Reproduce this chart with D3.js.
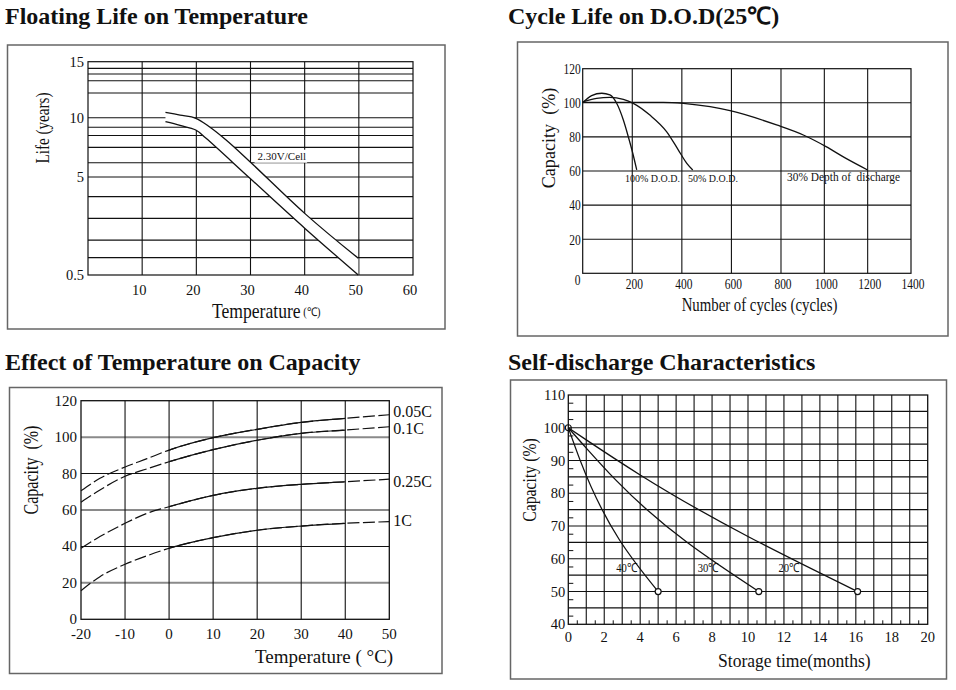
<!DOCTYPE html>
<html>
<head>
<meta charset="utf-8">
<script src="https://cdn.jsdelivr.net/npm/d3@7"></script>
<style>
body { margin: 0; background: #fff; }
text { white-space: pre; }
</style>
</head>
<body>
<svg id="chart"></svg>
<script>
var W = 956, H = 690;
var serif = "'Liberation Serif','Times New Roman',serif";

// ---- Floating life on temperature ----
var floatTempTicks = [10, 20, 30, 40, 50, 60];
var floatLifeTicks = [15, 10, 5, 0.5];
var floatLifeGrid = [14.4, 13.9, 13.3, 12.2, 10, 9.2, 8.5, 7.5, 6.2, 5, 4.1, 3.1, 2.1, 1.3];
var floatUpper = [[14.3, 10.48], [17, 10.23], [19.9, 9.95], [22.4, 9.24], [25.5, 8.12], [29.9, 6.29], [40, 3.33], [49.9, 1.27]];
var floatLower = [[14.3, 9.66], [17, 9.35], [19.9, 8.96], [21.8, 8.26], [29.9, 4.94], [40, 2.65], [49.9, 0.5]];
var floatNote = ["2.30V/Cell", 31.3, 6.75];

// ---- Cycle life on D.O.D ----
var cycleTicks = [200, 400, 600, 800, 1000, 1200, 1400];
var cycleCapTicks = [20, 40, 60, 80, 100, 120];
var dod100 = [[0, 100], [36, 104.2], [77, 105.6], [110, 104.6], [137, 99.7], [164, 89.9], [184, 80.1], [202, 70.4], [218, 60.6]];
var dod50 = [[0, 100.5], [56, 102.6], [110, 103.2], [164, 102], [204, 99.7], [271, 92.8], [339, 83], [386, 72.3], [420, 64.5], [444, 60.6]];
var dod30 = [[0, 100.3], [325, 100.3], [406, 99.7], [514, 97.7], [599, 95.2], [782, 87], [903, 81.1], [1008, 74.3], [1100, 67.4], [1200, 60.6]];
var dodLabels = [["100% D.O.D.", 171, 55.7, 10.5], ["50% D.O.D.", 425, 55.7, 10.5], ["30% Depth of  discharge", 828, 56, 12]];

// ---- Effect of temperature on capacity ----
var tempTicks = [-20, -10, 0, 10, 20, 30, 40, 50];
var tempCapTicks = [0, 20, 40, 60, 80, 100, 120];
var tempPts = [-20, -15.7, -10, -5, 0, 10, 20, 30, 40, 50];
var cap005 = [70.6, 77.4, 83.6, 88.2, 92.9, 99.7, 104.3, 108.1, 110.3, 112.3];
var cap01 = [64.2, 71, 78.5, 82.6, 86.5, 93.1, 98.3, 102.1, 103.9, 105.7];
var cap025 = [39, 45.4, 52.7, 58.2, 61.8, 68, 71.9, 74.1, 75.5, 76.9];
var cap1 = [15.7, 23.4, 30.2, 34.9, 39, 44.8, 48.9, 51.2, 52.7, 53.6];
var rateNames = ["0.05C", "0.1C", "0.25C", "1C"];
var rateLabelY = [114, 105, 75.5, 54.5];

// ---- Self-discharge ----
var monthTicks = [0, 2, 4, 6, 8, 10, 12, 14, 16, 18, 20];
var selfCapTicks = [40, 50, 60, 70, 80, 90, 100, 110];
var sd40 = [[0, 100], [0.65, 90.2], [5, 50]];
var sd30 = [[0, 100], [1, 93.8], [2.65, 84], [10.6, 50]];
var sd20 = [[0, 100], [1, 96.3], [4, 85.6], [16.1, 50]];
var sdLabels = [["40℃", 3.27, 57.2], ["30℃", 7.8, 57.2], ["20℃", 12.3, 57.2]];

var svg = d3.select("#chart").attr("width", W).attr("height", H);
svg.append("rect").attr("width", W).attr("height", H).attr("fill", "#fff");

function txt(g, x, y, s, o) {
  o = o || {};
  var tr = "translate(" + x + "," + y + ")";
  if (o.rot) tr += " rotate(" + o.rot + ")";
  if (o.sx) tr += " scale(" + o.sx + ",1)";
  return g.append("text")
    .attr("transform", tr)
    .attr("font-family", serif)
    .attr("font-size", o.size || 14)
    .attr("font-weight", o.bold ? "bold" : null)
    .attr("text-anchor", o.anchor || "middle")
    .attr("dominant-baseline", o.base || "central")
    .attr("fill", "#111")
    .text(s);
}

function frame(b) {
  svg.append("rect")
    .attr("x", b[0]).attr("y", b[1]).attr("width", b[2]).attr("height", b[3])
    .attr("fill", "none").attr("stroke", "#666").attr("stroke-width", 1.5);
}

function plotArea(p) {
  return svg.append("g").attr("transform", "translate(" + p.x + "," + p.y + ")");
}

function hlines(g, vals, y, w, stroke, sw) {
  g.append("g").selectAll("line").data(vals).enter().append("line")
    .attr("x1", 0).attr("x2", w)
    .attr("y1", function(d) { return y(d); })
    .attr("y2", function(d) { return y(d); })
    .attr("stroke", stroke).attr("stroke-width", sw);
}

function vlines(g, vals, x, h, stroke, sw) {
  g.append("g").selectAll("line").data(vals).enter().append("line")
    .attr("y1", 0).attr("y2", h)
    .attr("x1", function(d) { return x(d); })
    .attr("x2", function(d) { return x(d); })
    .attr("stroke", stroke).attr("stroke-width", sw);
}

function box(g, p, sw) {
  g.append("rect").attr("width", p.w).attr("height", p.h)
    .attr("fill", "none").attr("stroke", "#111").attr("stroke-width", sw);
}

// ================= Panel 1 =================
var p1 = {x: 88, y: 61.7, w: 325, h: 213.3};
frame([7.5, 45, 437.5, 284]);
txt(svg, 5, 23.5, "Floating Life on Temperature", {size: 24, bold: true, anchor: "start", base: "alphabetic"});
var g1 = plotArea(p1);
var x1 = d3.scaleLinear().domain([0, 60]).range([0, p1.w]);
var y1 = d3.scaleLinear().domain([0.5, 5, 10, 15]).range([p1.h, p1.h * 0.5405, p1.h * 0.2625, 0]);
hlines(g1, floatLifeGrid, y1, p1.w, "#111", 1.1);
vlines(g1, floatTempTicks.slice(0, -1), x1, p1.h, "#111", 1.1);
box(g1, p1, 1.2);

var line1 = d3.line().x(function(d) { return x1(d[0]); }).y(function(d) { return y1(d[1]); }).curve(d3.curveCatmullRom);
var bandPath = line1(floatUpper) + "L" + line1(floatLower.slice().reverse()).slice(1) + "Z";
g1.append("path").attr("d", bandPath).attr("fill", "#fff");
[floatUpper, floatLower].forEach(function(s) {
  g1.append("path").attr("d", line1(s)).attr("fill", "none").attr("stroke", "#111").attr("stroke-width", 1.3);
});
var note = txt(g1, x1(floatNote[1]), y1(floatNote[2]), floatNote[0], {size: 11, anchor: "start"});
var nb = note.node().getBBox();
g1.insert("rect", "text")
  .attr("x", x1(floatNote[1]) - 3).attr("y", y1(floatNote[2]) - 6.5)
  .attr("width", nb.width + 4).attr("height", 13).attr("fill", "#fff");

floatLifeTicks.forEach(function(v) {
  txt(svg, p1.x - 4, p1.y + y1(v), String(v), {size: 14.5, anchor: "end"});
});
floatTempTicks.forEach(function(v) {
  txt(svg, p1.x + x1(v) - 3, 290, String(v), {size: 14.5});
});
var t1 = txt(svg, 212, 311.5, "Temperature", {size: 20, anchor: "start", sx: 0.88});
t1.append("tspan").attr("font-size", 12).text(" (℃)");
txt(svg, 42.5, 128, "Life (years)", {size: 18.5, rot: -90, sx: 0.82});

// ================= Panel 2 =================
var p2 = {x: 582.7, y: 68.7, w: 328.3, h: 204.6};
frame([517.5, 42, 430.5, 294]);
txt(svg, 508, 24, "Cycle Life on D.O.D(25℃)", {size: 24, bold: true, anchor: "start", base: "alphabetic"});
var g2 = plotArea(p2);
var x2 = d3.scaleLinear().domain([0, 800, 1400]).range([0, p2.w * 0.604, p2.w]);
var y2 = d3.scaleLinear().domain([0, 120]).range([p2.h, 0]);
hlines(g2, cycleCapTicks.slice(0, -1), y2, p2.w, "#111", 1.1);
vlines(g2, cycleTicks.slice(0, -1), x2, p2.h, "#111", 1.1);
box(g2, p2, 1.2);
var line2 = d3.line().x(function(d) { return x2(d[0]); }).y(function(d) { return y2(d[1]); }).curve(d3.curveMonotoneX);
[dod100, dod50, dod30].forEach(function(s) {
  g2.append("path").attr("d", line2(s)).attr("fill", "none").attr("stroke", "#111").attr("stroke-width", 1.3);
});
dodLabels.forEach(function(l) {
  txt(g2, x2(l[1]), y2(l[2]), l[0], {size: l[3], anchor: "start", sx: 0.95});
});
cycleCapTicks.forEach(function(v) {
  txt(svg, p2.x - 2, p2.y + y2(v) + 1, String(v), {size: 14, anchor: "end", sx: 0.82});
});
txt(svg, p2.x - 5, p2.y + y2(0) + 7, "0", {size: 14, sx: 0.82});
cycleTicks.forEach(function(v) {
  txt(svg, p2.x + x2(v) + 2, 285, String(v), {size: 14, sx: 0.82});
});
txt(svg, 759.5, 305, "Number of cycles (cycles)", {size: 19, sx: 0.78});
txt(svg, 549, 138, "Capacity  (%)", {size: 18.5, rot: -90, sx: 0.98});

// ================= Panel 3 =================
var p3 = {x: 81, y: 400.7, w: 308.3, h: 218.6};
frame([9.5, 387.5, 432.5, 286]);
txt(svg, 5, 370, "Effect of Temperature on Capacity", {size: 24, bold: true, anchor: "start", base: "alphabetic"});
var g3 = plotArea(p3);
var x3 = d3.scaleLinear().domain([-20, 50]).range([0, p3.w]);
var y3 = d3.scaleLinear().domain([0, 120]).range([p3.h, 0]);
hlines(g3, [20, 60, 100], y3, p3.w, "#8a8a8a", 2);
hlines(g3, [40, 80], y3, p3.w, "#111", 1.1);
vlines(g3, tempTicks.slice(1, -1), x3, p3.h, "#111", 1.1);
box(g3, p3, 1.3);

// solid stroke only between 0 and 40 degrees, dashed outside
svg.append("defs").append("clipPath").attr("id", "solidPart")
  .append("rect").attr("x", x3(0)).attr("y", -5).attr("width", x3(40) - x3(0)).attr("height", p3.h + 10);
var line3 = d3.line().x(function(d) { return x3(d[0]); }).y(function(d) { return y3(d[1]); }).curve(d3.curveMonotoneX);
[cap005, cap01, cap025, cap1].forEach(function(vals, i) {
  var pts = tempPts.map(function(t, j) { return [t, vals[j]]; });
  var gl = g3.append("g");
  gl.append("path").attr("d", line3(pts)).attr("fill", "none").attr("stroke", "#111")
    .attr("stroke-width", 1.2).attr("stroke-dasharray", "12,3.5");
  gl.append("path").attr("d", line3(pts)).attr("fill", "none").attr("stroke", "#111")
    .attr("stroke-width", 1.2).attr("clip-path", "url(#solidPart)");
  txt(svg, p3.x + p3.w + 4, p3.y + y3(rateLabelY[i]), rateNames[i], {size: 16, anchor: "start"});
});
tempCapTicks.forEach(function(v) {
  txt(svg, p3.x - 4, p3.y + y3(v), String(v), {size: 15, anchor: "end"});
});
tempTicks.forEach(function(v) {
  txt(svg, p3.x + x3(v), 634, String(v), {size: 15});
});
txt(svg, 255, 656, "Temperature ( °C)", {size: 19, anchor: "start"});
txt(svg, 31, 470, "Capacity  (%)", {size: 20, rot: -90, sx: 0.8});

// ================= Panel 4 =================
var p4 = {x: 568.3, y: 395, w: 359.4, h: 229.3};
frame([510.5, 380, 436, 299]);
txt(svg, 508, 370, "Self-discharge Characteristics", {size: 24, bold: true, anchor: "start", base: "alphabetic"});
var g4 = plotArea(p4);
var x4 = d3.scaleLinear().domain([0, 20]).range([0, p4.w]);
var y4 = d3.scaleLinear().domain([40, 110]).range([p4.h, 0]);
hlines(g4, d3.range(45, 110, 5), y4, p4.w, "#111", 1.1);
vlines(g4, d3.range(1, 20), x4, p4.h, "#111", 1.1);
g4.append("g").selectAll("line").data(d3.range(42.5, 110, 5)).enter().append("line")
  .attr("x1", 0).attr("x2", 5)
  .attr("y1", function(d) { return y4(d); }).attr("y2", function(d) { return y4(d); })
  .attr("stroke", "#111").attr("stroke-width", 1);
g4.append("g").selectAll("line").data(d3.range(0.5, 20, 1)).enter().append("line")
  .attr("y1", p4.h).attr("y2", p4.h - 4)
  .attr("x1", function(d) { return x4(d); }).attr("x2", function(d) { return x4(d); })
  .attr("stroke", "#111").attr("stroke-width", 1);
box(g4, p4, 1.3);
var line4 = d3.line().x(function(d) { return x4(d[0]); }).y(function(d) { return y4(d[1]); }).curve(d3.curveMonotoneX);
[sd40, sd30, sd20].forEach(function(s) {
  g4.append("path").attr("d", line4(s)).attr("fill", "none").attr("stroke", "#111").attr("stroke-width", 1.3);
  var e = s[s.length - 1];
  g4.append("circle").attr("cx", x4(e[0])).attr("cy", y4(e[1])).attr("r", 3)
    .attr("fill", "#fff").attr("stroke", "#111").attr("stroke-width", 1.2);
});
g4.append("circle").attr("cx", x4(sd40[0][0])).attr("cy", y4(sd40[0][1])).attr("r", 3)
  .attr("fill", "none").attr("stroke", "#111").attr("stroke-width", 1.2);
sdLabels.forEach(function(l) {
  txt(g4, x4(l[1]), y4(l[2]), l[0], {size: 12.5, sx: 0.85});
});
selfCapTicks.forEach(function(v) {
  txt(svg, p4.x - 3, p4.y + y4(v), String(v), {size: 14.5, anchor: "end"});
});
monthTicks.forEach(function(v) {
  txt(svg, p4.x + x4(v), 636.5, String(v), {size: 14.5});
});
txt(svg, 718, 661, "Storage time(months)", {size: 18.5, anchor: "start", sx: 0.95});
txt(svg, 529, 480, "Capacity (%)", {size: 19, rot: -90, sx: 0.83});
</script>
</body>
</html>
